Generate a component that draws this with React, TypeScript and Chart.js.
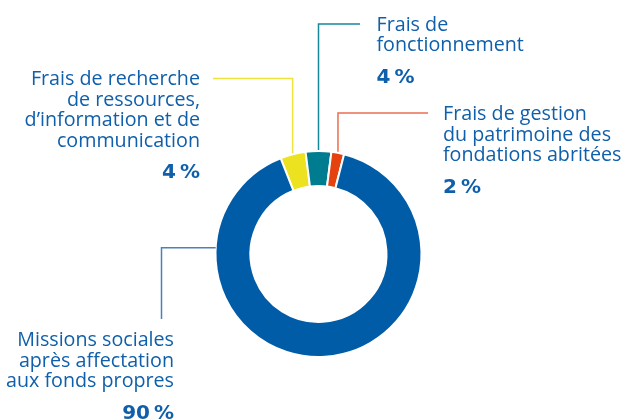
import React, { useEffect, useRef } from 'react';
import { Chart, registerables } from 'chart.js';

Chart.register(...registerables);

// ---- Data ----
const categories = [
  "Frais de recherche de ressources, d’information et de communication",
  "Frais de fonctionnement",
  "Frais de gestion du patrimoine des fondations abritées",
  "Missions sociales après affectation aux fonds propres",
];
const labelLines = [
  ["Frais de recherche", "de ressources,", "d’information et de", "communication"],
  ["Frais de", "fonctionnement"],
  ["Frais de gestion", "du patrimoine des", "fondations abritées"],
  ["Missions sociales", "après affectation", "aux fonds propres"],
];
const values = [4, 4, 2, 90];
const percentLabels = ["4\u202F%", "4\u202F%", "2\u202F%", "90\u202F%"];

// ---- Styles ----
const sliceColors = ['#ECE21F', '#007C90', '#E5420F', '#005CA7'];
const leaderColors = ['#ECE43A', '#15889A', '#EC6E4E', '#4A80BE'];
const textColor = '#0F5FAA';
const FONT = '"Open Sans", "Noto Sans", sans-serif';
const BOLD_FONT = '"DejaVu Sans", "Open Sans", sans-serif';
const REG_SIZE = 19.7;
const BOLD_SIZE = 20;
const LINE_GAP = 20.5;
const PCT_GAP = 31.5;

// ---- Callout layout (annotation placement) ----
type Layout = {
  kind: 'up' | 'left';
  align: CanvasTextAlign;
  textX: number;
  firstBaseline: number;
  elbowY: number;
  lineEndX: number;
  gap: number;
  tilt?: number;
};
const calloutLayout: Layout[] = [
  { kind: 'up', align: 'right', textX: 200, firstBaseline: 85, elbowY: 78.5, lineEndX: 213, gap: 1 },
  { kind: 'up', align: 'left', textX: 376.5, firstBaseline: 30.5, elbowY: 24, lineEndX: 360, gap: 1 },
  { kind: 'up', align: 'left', textX: 443, firstBaseline: 120, elbowY: 113, lineEndX: 428, gap: 1 },
  { kind: 'left', align: 'right', textX: 174, firstBaseline: 346, elbowY: 319, lineEndX: 161.5, gap: 0, tilt: 0.06 },
];

const total = values.reduce((a, b) => a + b, 0);
// center the second slice on the top of the ring
const rotationDeg = -((values[0] / total) * 360 + (values[1] / total) * 180);

const calloutPlugin = {
  id: 'callouts',
  afterDatasetsDraw(chart: any) {
    const ctx: CanvasRenderingContext2D = chart.ctx;
    const meta = chart.getDatasetMeta(0);
    meta.data.forEach((arc: any, i: number) => {
      const L = calloutLayout[i];
      if (!L) return;
      const p = arc.getProps(['x', 'y', 'startAngle', 'endAngle', 'outerRadius'], true);
      const ang = L.kind === 'up' ? (p.startAngle + p.endAngle) / 2 : Math.PI + (L.tilt || 0);
      const r = p.outerRadius + L.gap;
      const ax = p.x + Math.cos(ang) * r;
      const ay = p.y + Math.sin(ang) * r;
      ctx.save();
      ctx.strokeStyle = leaderColors[i];
      ctx.lineWidth = 1.5;
      ctx.beginPath();
      if (L.kind === 'up') {
        ctx.moveTo(ax, ay);
        ctx.lineTo(ax, L.elbowY);
        ctx.lineTo(L.lineEndX, L.elbowY);
      } else {
        ctx.moveTo(ax, ay);
        ctx.lineTo(L.lineEndX, ay);
        ctx.lineTo(L.lineEndX, L.elbowY);
      }
      ctx.stroke();

      ctx.fillStyle = textColor;
      ctx.textAlign = L.align;
      ctx.textBaseline = 'alphabetic';
      ctx.font = `400 ${REG_SIZE}px ${FONT}`;
      const lines = labelLines[i];
      lines.forEach((t, k) => ctx.fillText(t, L.textX, L.firstBaseline + k * LINE_GAP));
      ctx.font = `700 ${BOLD_SIZE}px ${BOLD_FONT}`;
      ctx.fillText(percentLabels[i], L.textX, L.firstBaseline + (lines.length - 1) * LINE_GAP + PCT_GAP);
      ctx.restore();
    });
  },
};

export default function App() {
  const canvasRef = useRef<HTMLCanvasElement | null>(null);

  useEffect(() => {
    if (!canvasRef.current) return;
    const chart = new Chart(canvasRef.current, {
      type: 'doughnut',
      data: {
        labels: categories,
        datasets: [
          {
            data: values,
            backgroundColor: sliceColors,
            borderColor: '#ffffff',
            borderWidth: 2,
            hoverOffset: 0,
          },
        ],
      },
      options: {
        responsive: false,
        animation: false,
        rotation: rotationDeg,
        radius: 103,
        cutout: '66%',
        layout: { padding: { left: 14, right: 0, top: 89, bottom: 0 } },
        plugins: {
          legend: { display: false },
          tooltip: { enabled: false },
        },
      },
      plugins: [calloutPlugin],
    });
    return () => chart.destroy();
  }, []);

  return (
    <div style={{ position: 'fixed', left: 0, top: 0, width: 623, height: 419, background: '#fff' }}>
      <canvas ref={canvasRef} width={623} height={419} style={{ display: 'block' }} />
    </div>
  );
}
